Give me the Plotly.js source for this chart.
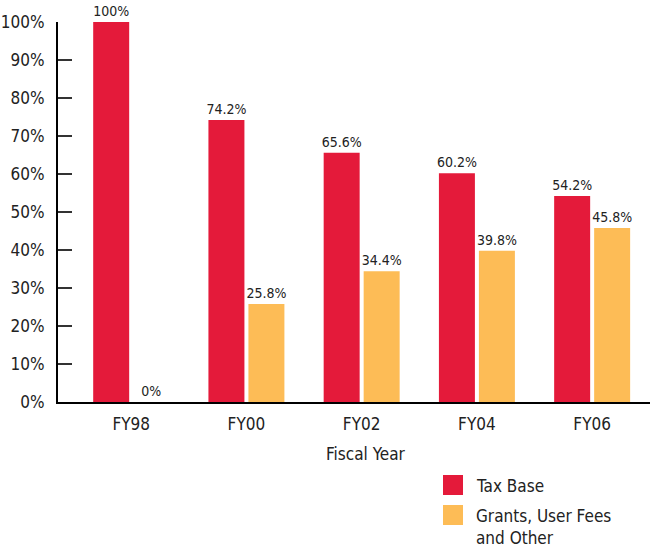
<!DOCTYPE html>
<html>
<head>
<meta charset="utf-8">
<script src="https://cdn.plot.ly/plotly-3.0.1.min.js"></script>
<style>html,body{margin:0;padding:0;background:#fff;}#chart{width:652px;height:548px;}</style>
</head>
<body>
<div id="chart"></div>
<script>
const categories = ["FY98", "FY00", "FY02", "FY04", "FY06"];
const taxBase = [100, 74.2, 65.6, 60.2, 54.2];
const grants = [0, 25.8, 34.4, 39.8, 45.8];
const seriesNames = ["Tax Base", "Grants, User Fees<br>and Other"];
const yTickVals = [0, 10, 20, 30, 40, 50, 60, 70, 80, 90, 100];
const yTickText = yTickVals.map(v => v + "%");

const FONT = '"Liberation Sans Narrow", "DejaVu Sans Condensed", "Arial Narrow", sans-serif';
const RED = "#E41A3A";
const ORANGE = "#FDBC56";

const W = 652, H = 548;
const M = {l: 58, r: 2, t: 22, b: 146};
const pw = W - M.l - M.r, ph = H - M.t - M.b;
const px = x => (x - M.l) / pw;
const py = y => (H - M.b - y) / ph;

const traces = [
  {type: "bar", x: categories, y: taxBase, name: seriesNames[0], marker: {color: RED},
   text: taxBase.map(v => v + "%"), textposition: "outside", cliponaxis: false, constraintext: "none",
   textfont: {family: FONT, size: 14, color: "#222"}, hoverinfo: "none"},
  {type: "bar", x: categories, y: grants, name: seriesNames[1], marker: {color: ORANGE},
   text: grants.map(v => v + "%"), textposition: "outside", cliponaxis: false, constraintext: "none",
   textfont: {family: FONT, size: 14, color: "#222"}, hoverinfo: "none"}
];

const legendColors = [RED, ORANGE];
const legendTops = [475, 505];
const shapes = legendColors.map((c, i) => ({
  type: "rect", xref: "paper", yref: "paper",
  x0: px(443), x1: px(463), y0: py(legendTops[i] + 20), y1: py(legendTops[i]),
  fillcolor: c, line: {width: 0}
}));
const annotations = seriesNames.map((n, i) => ({
  xref: "paper", yref: "paper", x: px(474), y: py(legendTops[i] - 1),
  xanchor: "left", yanchor: "top", align: "left", showarrow: false,
  text: n, font: {family: FONT, size: 17, color: "#222"}
}));
annotations.push({
  xref: "paper", yref: "paper", x: px(366), y: py(454), xanchor: "center", yanchor: "middle",
  showarrow: false, text: "Fiscal Year", font: {family: FONT, size: 17, color: "#222"}
});

const layout = {
  width: W, height: H, margin: M,
  paper_bgcolor: "#fff", plot_bgcolor: "#fff",
  showlegend: false,
  barmode: "group", bargap: 0.306, bargroupgap: 0.1,
  font: {family: FONT, size: 17, color: "#222"},
  xaxis: {
    type: "category", range: [-0.635, 4.502], showgrid: false, zeroline: false,
    showline: true, linecolor: "#000", linewidth: 2, ticks: "",
    ticklabelstandoff: 6,
    tickfont: {family: FONT, size: 17, color: "#222"}, fixedrange: true
  },
  yaxis: {
    range: [0, 100], tickvals: yTickVals, ticktext: yTickText,
    showgrid: false, zeroline: false, showline: true, linecolor: "#000", linewidth: 2,
    ticks: "inside", ticklen: 14, tickcolor: "#333", tickwidth: 1.5,
    ticklabelstandoff: 8,
    tickfont: {family: FONT, size: 17, color: "#222"}, fixedrange: true
  },
  shapes: shapes,
  annotations: annotations
};

Plotly.newPlot("chart", traces, layout, {displayModeBar: false, staticPlot: true});
</script>
</body>
</html>
